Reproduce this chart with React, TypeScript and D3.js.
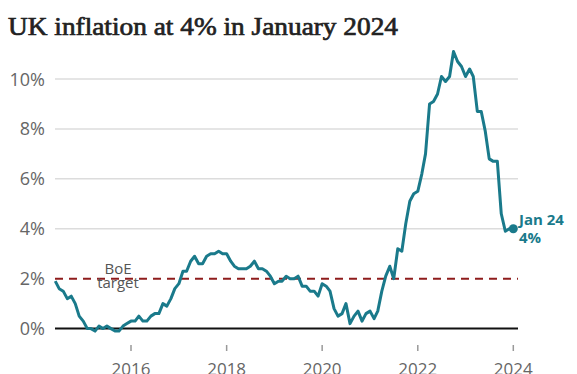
import React from "react";
import * as d3 from "d3";

const START_YEAR = 2014;
const START_MONTH = 5; // June (0-based)
const cpiValues: number[] = [
  1.9, 1.6, 1.5, 1.2, 1.3, 1.0, 0.5,
  0.3, 0.0, 0.0, -0.1, 0.1, 0.0, 0.1, 0.0, -0.1, -0.1, 0.1, 0.2,
  0.3, 0.3, 0.5, 0.3, 0.3, 0.5, 0.6, 0.6, 1.0, 0.9, 1.2, 1.6,
  1.8, 2.3, 2.3, 2.7, 2.9, 2.6, 2.6, 2.9, 3.0, 3.0, 3.1, 3.0,
  3.0, 2.7, 2.5, 2.4, 2.4, 2.4, 2.5, 2.7, 2.4, 2.4, 2.3, 2.1,
  1.8, 1.9, 1.9, 2.1, 2.0, 2.0, 2.1, 1.7, 1.7, 1.5, 1.5, 1.3,
  1.8, 1.7, 1.5, 0.8, 0.5, 0.6, 1.0, 0.2, 0.5, 0.7, 0.3, 0.6,
  0.7, 0.4, 0.7, 1.5, 2.1, 2.5, 2.0, 3.2, 3.1, 4.2, 5.1, 5.4,
  5.5, 6.2, 7.0, 9.0, 9.1, 9.4, 10.1, 9.9, 10.1, 11.1, 10.7, 10.5,
  10.1, 10.4, 10.1, 8.7, 8.7, 7.9, 6.8, 6.7, 6.7, 4.6, 3.9, 4.0,
  4.0,
];
const yTicks: number[] = [0, 2, 4, 6, 8, 10];
const xTickYears: number[] = [2016, 2018, 2020, 2022, 2024];
const targetValue = 2;
const title = "UK inflation at 4% in January 2024";
const endLabel = ["Jan 24", "4%"];
const targetLabel = ["BoE", "target"];

const data = cpiValues.map((v, i) => ({
  date: new Date(START_YEAR, START_MONTH + i, 1),
  value: v,
}));

export default function App() {
  const W = 577;
  const H = 374;
  const x = d3
    .scaleTime()
    .domain([new Date(2016, 0, 1), new Date(2024, 0, 1)])
    .range([131, 513.3]);
  const y = d3.scaleLinear().domain([0, 10]).range([328.6, 79]);
  const x0 = 55;
  const x1 = 518;
  const teal = "#1a7a8b";
  const line = d3
    .line<{ date: Date; value: number }>()
    .x((d) => x(d.date))
    .y((d) => y(d.value))
    .curve(d3.curveLinear);
  const last = data[data.length - 1];
  const sans = "'Open Sans', 'Noto Sans', sans-serif";

  return (
    <svg
      width={W}
      height={H}
      style={{ position: "absolute", left: 0, top: 0, background: "#fff" }}
    >
      <rect width={W} height={H} fill="#fff" />
      <text
        x={8}
        y={35}
        fontFamily="'Liberation Serif', serif"
        fontSize={26}
        fill="#222"
        stroke="#222"
        strokeWidth={0.7}
        textLength={390}
        lengthAdjust="spacingAndGlyphs"
      >
        {title}
      </text>
      {yTicks
        .filter((t) => t !== 0 && t !== targetValue)
        .map((t) => (
          <line
            key={"g" + t}
            x1={x0}
            x2={x1}
            y1={y(t)}
            y2={y(t)}
            stroke="#dcdcdc"
            strokeWidth={1.5}
          />
        ))}
      {yTicks.map((t) => (
        <text
          key={"yl" + t}
          x={45}
          y={y(t) + 6.5}
          textAnchor="end"
          fontFamily={sans}
          fontSize={18}
          fill="#666"
        >
          {t + "%"}
        </text>
      ))}
      <line
        x1={x0}
        x2={x1}
        y1={y(targetValue)}
        y2={y(targetValue)}
        stroke="#8e1c1c"
        strokeWidth={2}
        strokeDasharray="8,6"
      />
      <text
        x={118}
        y={274}
        textAnchor="middle"
        fontFamily={sans}
        fontSize={15}
        fill="#555"
      >
        {targetLabel[0]}
      </text>
      <text
        x={118}
        y={288}
        textAnchor="middle"
        fontFamily={sans}
        fontSize={15}
        fill="#555"
      >
        {targetLabel[1]}
      </text>
      <line
        x1={x0}
        x2={x1}
        y1={y(0)}
        y2={y(0)}
        stroke="#111"
        strokeWidth={2}
      />
      <path
        d={line(data) || ""}
        fill="none"
        stroke={teal}
        strokeWidth={3}
        strokeLinejoin="round"
      />
      <circle cx={x(last.date)} cy={y(last.value)} r={4.5} fill={teal} />
      <text
        x={519}
        y={225}
        fontFamily={sans}
        fontWeight="bold"
        fontSize={15}
        fill={teal}
      >
        {endLabel[0]}
      </text>
      <text
        x={519}
        y={243}
        fontFamily={sans}
        fontWeight="bold"
        fontSize={15}
        fill={teal}
      >
        {endLabel[1]}
      </text>
      {xTickYears.map((yr) => {
        const px = x(new Date(yr, 0, 1));
        return (
          <g key={"x" + yr}>
            <line
              x1={px}
              x2={px}
              y1={345}
              y2={351}
              stroke="#999"
              strokeWidth={1.5}
            />
            <text
              x={px}
              y={375}
              textAnchor="middle"
              fontFamily={sans}
              fontSize={17}
              fill="#666"
            >
              {yr}
            </text>
          </g>
        );
      })}
    </svg>
  );
}
